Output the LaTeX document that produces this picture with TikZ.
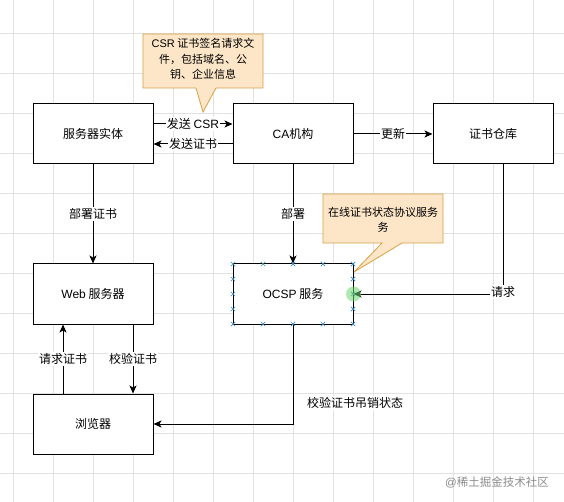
\documentclass[tikz,border=0pt]{standalone}
\usepackage{fontspec}
\setmainfont{Noto Sans CJK SC}
\newfontfamily\lat{Liberation Sans}
\usetikzlibrary{arrows.meta,calc}
\definecolor{gridc}{RGB}{225,225,225}
\definecolor{callfill}{RGB}{253,230,200}
\definecolor{callline}{RGB}{215,160,70}
\definecolor{mkc}{RGB}{60,140,190}
\definecolor{wm}{RGB}{140,140,140}
\definecolor{glow}{RGB}{110,215,110}
\tikzset{
  box/.style={draw=black, line width=1pt, fill=white, minimum width=120pt, minimum height=60pt, inner sep=0pt, font=\fontsize{12}{14}\selectfont},
  arr/.style={draw=black, line width=1pt, -{Stealth[length=8pt,width=7pt,inset=2pt]}},
  lbl/.style={fill=white, inner sep=1pt, font=\fontsize{12}{14}\selectfont},
  callout/.style={draw=callline, fill=callfill, line width=0.8pt, line join=miter},
  calltext/.style={align=center, inner sep=0pt, font=\fontsize{11}{15.5}\selectfont},
  mk/.style={draw=mkc, line width=0.7pt}
}
\begin{document}
\begin{tikzpicture}[x=1pt,y=-1pt]
\useasboundingbox (0,0) rectangle (564,502);
\fill[white] (0,0) rectangle (564,502);
% grid
\foreach \x in {13,53,...,560} \draw[gridc, line width=0.8pt] (\x,0) -- (\x,502);
\foreach \y in {33,73,...,500} \draw[gridc, line width=0.8pt] (0,\y) -- (564,\y);

% callouts
\draw[callout] (143,34) -- (263,34) -- (263,88) -- (216,88) -- (203,112) -- (196,88) -- (143,88) -- cycle;
\node[calltext] (c1) at (203,59) {{\lat CSR} 证书签名请求文\\件，包括域名、公\\钥、企业信息};
\draw[callout] (323,194) -- (443,194) -- (443,243) -- (402,243) -- (354,272) -- (382,243) -- (323,243) -- cycle;
\node[calltext] (c2) at (383,220) {在线证书状态协议服务\\务};

% boxes
\node[box] (server) at (93,134) {服务器实体};
\node[box] (ca) at (293,134) {{\lat CA}机构};
\node[box] (repo) at (493,134) {证书仓库};
\node[box] (web) at (93,294) {{\lat Web} 服务器};
\node[box] (ocsp) at (293,294) {{\lat OCSP} 服务};
\node[box] (browser) at (93,424) {浏览器};

% connectors
\draw[arr] ($(server.east)+(0,-10)$) -- node[lbl]{发送 {\lat CSR}} ($(ca.west)+(0,-10)$);
\draw[arr] ($(ca.west)+(0,10)$) -- node[lbl]{发送证书} ($(server.east)+(0,10)$);
\draw[arr] (ca.east) -- node[lbl]{更新} (repo.west);
\draw[arr] (server.south) -- node[lbl]{部署证书} (web.north);
\draw[arr] (ca.south) -- node[lbl]{部署} (ocsp.north);
\draw[arr] ($(browser.north)+(-30,0)$) -- node[lbl]{请求证书} ($(web.south)+(-30,0)$);
\draw[arr] ($(web.south)+(40,0)$) -- node[lbl]{校验证书} ($(browser.north)+(40,0)$);
\coordinate (repoout) at ($(repo.south)+(10,0)$);
\draw[arr] (repoout) |- node[lbl, pos=0.5, yshift=2pt]{请求} (ocsp.east);
\draw[arr] (ocsp.south) |- (browser.east);
\node[lbl] (revoke) at (355,403) {校验证书吊销状态};

% selection markers on OCSP box
\foreach \x in {233,263,293,323,353} {
  \foreach \y in {264,324} {
    \draw[mk] (\x-2.2,\y-2.2) -- (\x+2.2,\y+2.2) (\x-2.2,\y+2.2) -- (\x+2.2,\y-2.2);
  }
}
\foreach \x in {233,353} {
  \foreach \y in {279,294,309} {
    \draw[mk] (\x-2.2,\y-2.2) -- (\x+2.2,\y+2.2) (\x-2.2,\y+2.2) -- (\x+2.2,\y-2.2);
  }
}
\fill[glow, opacity=0.55] (ocsp.east) circle (7.5);

% watermark
\node[text=wm, font=\fontsize{11.5}{14}\selectfont, inner sep=0pt] (wmk) at (497,482) {{\lat @}稀土掘金技术社区};
\end{tikzpicture}
\end{document}
